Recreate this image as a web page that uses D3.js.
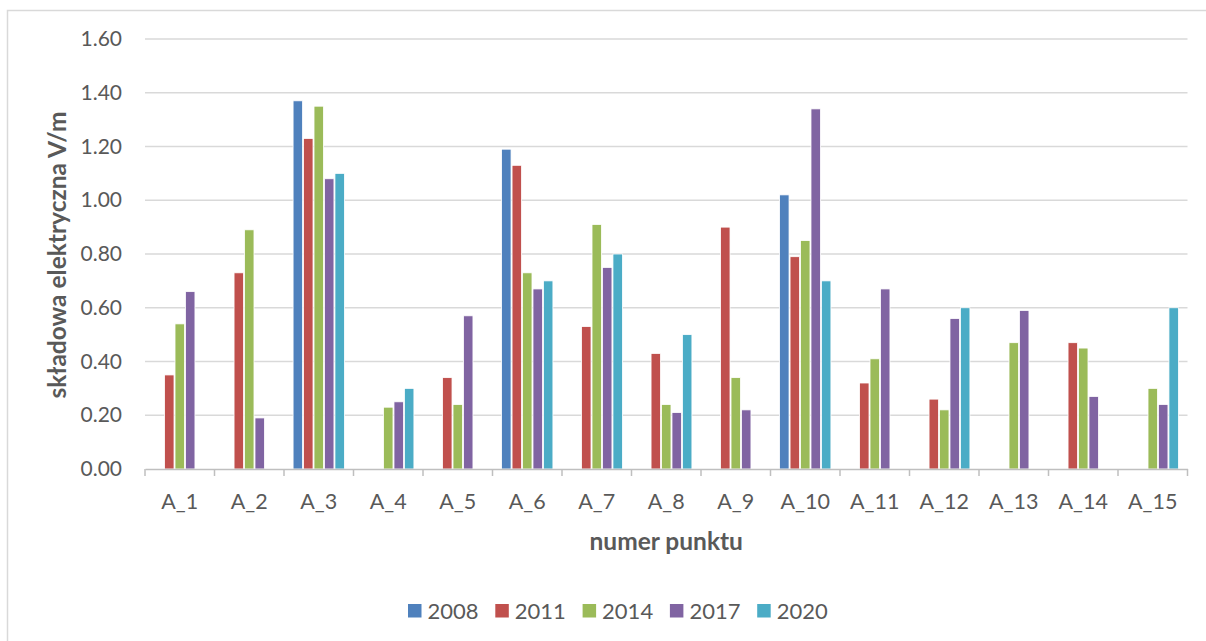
<!DOCTYPE html>
<html>
<head>
<meta charset="utf-8">
<script src="https://cdn.jsdelivr.net/npm/d3@7"></script>
<style>
  html, body { margin: 0; padding: 0; background: #ffffff; }
  svg { display: block; font-family: Lato, "Open Sans", sans-serif; }
</style>
</head>
<body>
<svg id="chart" width="1206" height="641"></svg>
<script>
// Measurement points and survey years
const categories = ["A_1","A_2","A_3","A_4","A_5","A_6","A_7","A_8","A_9","A_10","A_11","A_12","A_13","A_14","A_15"];
const years = ["2008","2011","2014","2017","2020"];

// Electric field component (V/m) per year; null = no measurement
const v2008 = [null, null, 1.37, null, null, 1.19, null, null, null, 1.02, null, null, null, null, null];
const v2011 = [0.35, 0.73, 1.23, null, 0.34, 1.13, 0.53, 0.43, 0.90, 0.79, 0.32, 0.26, null, 0.47, null];
const v2014 = [0.54, 0.89, 1.35, 0.23, 0.24, 0.73, 0.91, 0.24, 0.34, 0.85, 0.41, 0.22, 0.47, 0.45, 0.30];
const v2017 = [0.66, 0.19, 1.08, 0.25, 0.57, 0.67, 0.75, 0.21, 0.22, 1.34, 0.67, 0.56, 0.59, 0.27, 0.24];
const v2020 = [null, null, 1.10, 0.30, null, 0.70, 0.80, 0.50, null, 0.70, null, 0.60, null, null, 0.60];

const yTicks = [0, 0.2, 0.4, 0.6, 0.8, 1.0, 1.2, 1.4, 1.6];
const colors = ["#4F81BD", "#C0504D", "#9BBB59", "#8064A2", "#4BACC6"];

const seriesValues = [v2008, v2011, v2014, v2017, v2020];
const series = years.map((y, i) => ({ year: y, color: colors[i], values: seriesValues[i] }));

const svg = d3.select("#chart");

// Outer chart frame
svg.append("rect")
  .attr("x", 7.5).attr("y", 10.5)
  .attr("width", 1220).attr("height", 660)
  .attr("fill", "none").attr("stroke", "#d9d9d9").attr("stroke-width", 1.5);

const plot = { left: 145, right: 1187.5, top: 39, bottom: 469 };

const x = d3.scaleBand().domain(categories).range([plot.left, plot.right]).paddingInner(0).paddingOuter(0);
const x1 = d3.scaleBand().domain(years).range([0, x.bandwidth()]).paddingOuter(0.82).paddingInner(0);
const y = d3.scaleLinear().domain([0, 1.6]).range([plot.bottom, plot.top]);

// Horizontal gridlines
svg.append("g").selectAll("line")
  .data(yTicks.filter(t => t > 0))
  .join("line")
  .attr("x1", plot.left).attr("x2", plot.right)
  .attr("y1", d => y(d)).attr("y2", d => y(d))
  .attr("stroke", "#d9d9d9").attr("stroke-width", 1.3);

// Y axis labels
const yAxis = d3.axisLeft(y).tickValues(yTicks).tickFormat(d3.format(".2f")).tickSize(0).tickPadding(23);
const gy = svg.append("g").attr("transform", `translate(${plot.left},0)`).call(yAxis);
gy.select(".domain").remove();
gy.selectAll("text").attr("fill", "#595959").style("font-size", "21px").style("font-family", "Lato, sans-serif");

// Bars
const groups = svg.append("g").selectAll("g")
  .data(series)
  .join("g")
  .attr("fill", d => d.color);

groups.selectAll("rect")
  .data(d => d.values.map((v, i) => ({ cat: categories[i], year: d.year, v })).filter(o => o.v !== null))
  .join("rect")
  .attr("x", d => x(d.cat) + x1(d.year) + 0.5)
  .attr("width", x1.bandwidth() - 1)
  .attr("y", d => y(d.v))
  .attr("height", d => y(0) - y(d.v))
  .attr("stroke", "#ffffff").attr("stroke-width", 0.8);

// X axis
const xAxis = d3.axisBottom(x).tickSize(0).tickPadding(25);
const gx = svg.append("g").attr("transform", `translate(0,${plot.bottom})`).call(xAxis);
gx.select(".domain").attr("stroke", "#bfbfbf").attr("stroke-width", 1.5);
gx.selectAll("text").attr("fill", "#595959").style("font-size", "21.5px").style("font-family", "Lato, sans-serif");

// Category separators below the baseline
const sepPositions = categories.map(c => x(c)).concat([plot.right]);
svg.append("g").selectAll("line")
  .data(sepPositions)
  .join("line")
  .attr("x1", d => d).attr("x2", d => d)
  .attr("y1", plot.bottom).attr("y2", plot.bottom + 7)
  .attr("stroke", "#bfbfbf").attr("stroke-width", 1.5);

// Axis titles
svg.append("text")
  .attr("x", (plot.left + plot.right) / 2).attr("y", 550)
  .attr("text-anchor", "middle")
  .attr("fill", "#595959").style("font-weight", "bold").style("font-size", "24.5px")
  .text("numer punktu");

svg.append("text")
  .attr("transform", `translate(66,255) rotate(-90)`)
  .attr("text-anchor", "middle")
  .attr("fill", "#595959").style("font-weight", "bold").style("font-size", "24.5px")
  .text("składowa elektryczna V/m");

// Legend
const legend = svg.append("g").selectAll("g")
  .data(series)
  .join("g")
  .attr("transform", (d, i) => `translate(${408 + i * 87.3},604)`);
legend.append("rect").attr("width", 13.5).attr("height", 13.5).attr("fill", d => d.color);
legend.append("text")
  .attr("x", 19.5).attr("y", 14.5)
  .attr("fill", "#595959").style("font-size", "22px")
  .text(d => d.year);
</script>
</body>
</html>
